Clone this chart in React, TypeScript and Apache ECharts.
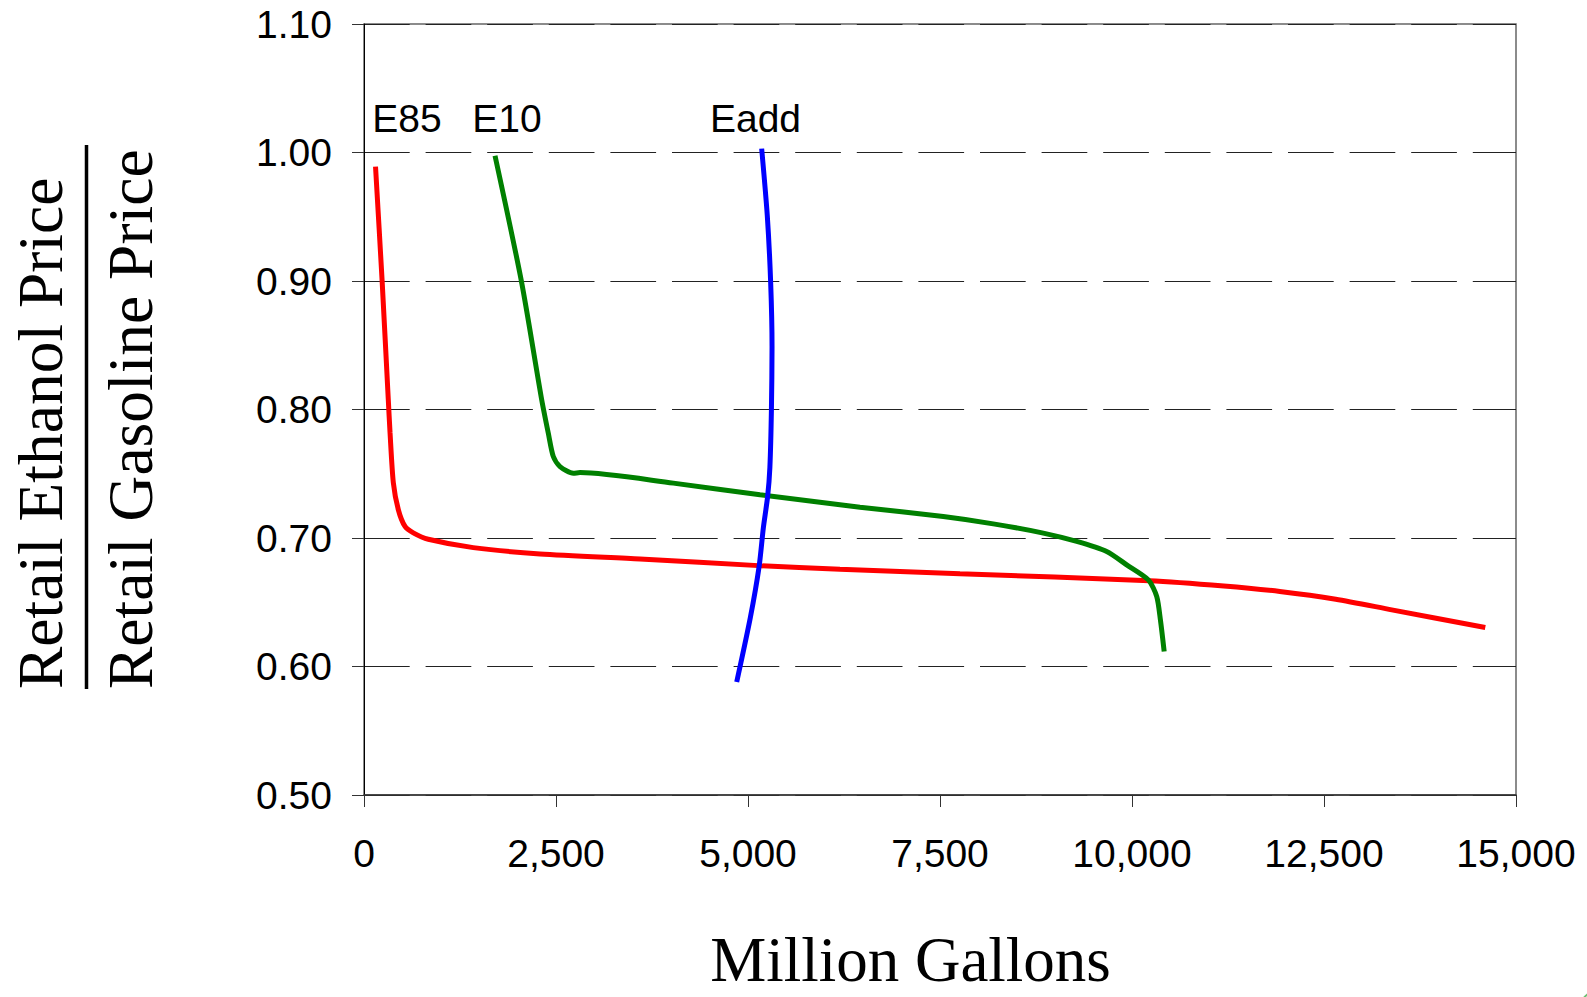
import React, { useEffect, useRef } from "react";
import * as echarts from "echarts";

// Quantity (million gallons) vs. retail ethanol/gasoline price ratio
const e85Curve: [number, number][] = [
  [150, 0.989], [236, 0.9], [316, 0.808], [339, 0.782], [382, 0.743],
  [447, 0.722], [534, 0.709], [642, 0.704], [837, 0.699], [1423, 0.6925],
  [2292, 0.6876], [3594, 0.6837], [5134, 0.6785], [6198, 0.6757],
  [7760, 0.6721], [10225, 0.6668], [11196, 0.6627],
  [11925, 0.6584], [12653, 0.6524], [13382, 0.6441], [14600, 0.6303],
];

const e10Curve: [number, number][] = [
  [1706, 0.9975], [2049, 0.9], [2314, 0.8075], [2400, 0.7815], [2465, 0.7634],
  [2552, 0.7556], [2726, 0.7504], [2813, 0.7509], [4028, 0.7427],
  [5156, 0.7336], [6458, 0.724], [7543, 0.7167], [8194, 0.711],
  [8845, 0.7038], [9280, 0.6973], [9670, 0.6895], [9931, 0.6791],
  [10213, 0.6674], [10322, 0.6545], [10370, 0.6363], [10419, 0.6117],
];

const eaddCurve: [number, number][] = [
  [5178, 1.003], [5251, 0.951], [5295, 0.899], [5313, 0.849], [5305, 0.8],
  [5285, 0.755], [5255, 0.732], [5200, 0.708], [5145, 0.678], [5030, 0.638],
  [4853, 0.588],
];

const seriesNames = ["E85", "E10", "Eadd"];
const seriesColors = ["#ff0000", "#008000", "#0000ff"];

const xMin = 0;
const xMax = 15000;
const xStep = 2500;
const yMin = 0.5;
const yMax = 1.1;
const yStep = 0.1;

const xTitle = "Million Gallons";
const yTitleTop = "Retail Ethanol Price";
const yTitleBottom = "Retail Gasoline Price";

const SANS = "'Liberation Sans', Arial, Helvetica, sans-serif";
const SERIF = "'Liberation Serif', 'Times New Roman', Times, serif";

export default function App() {
  const ref = useRef<HTMLDivElement>(null);

  useEffect(() => {
    if (!ref.current) return;
    const chart = echarts.init(ref.current, undefined, { renderer: "svg" });

    const lineSeries = (name: string, data: [number, number][], color: string) => ({
      name,
      type: "line",
      data,
      symbol: "none",
      smooth: 0.25,
      lineStyle: { color, width: 5 },
      z: 3,
    });

    chart.setOption({
      animation: false,
      backgroundColor: "#ffffff",
      grid: {
        left: 364,
        right: 71,
        top: 24,
        bottom: 202,
        show: true,
        borderColor: "#666",
        borderWidth: 1.5,
        backgroundColor: "transparent",
      },
      xAxis: {
        type: "value",
        min: xMin,
        max: xMax,
        interval: xStep,
        axisLine: { show: true, onZero: false, lineStyle: { color: "#333", width: 1.5 } },
        axisTick: { show: true, length: 12, lineStyle: { color: "#333", width: 1 } },
        axisLabel: {
          margin: 39,
          color: "#000",
          fontFamily: SANS,
          fontSize: 39,
          formatter: (v: number) => v.toLocaleString("en-US"),
        },
        splitLine: { show: false },
      },
      yAxis: {
        type: "value",
        min: yMin,
        max: yMax,
        interval: yStep,
        axisLine: { show: true, onZero: false, lineStyle: { color: "#000", width: 1 } },
        axisTick: { show: true, length: 12, lineStyle: { color: "#333", width: 1 } },
        axisLabel: {
          margin: 32,
          color: "#000",
          fontFamily: SANS,
          fontSize: 39,
          formatter: (v: number) => v.toFixed(2),
        },
        splitLine: {
          show: true,
          lineStyle: { color: "#222", width: 1, type: [45.7, 15.9] },
        },
      },
      series: [
        lineSeries(seriesNames[0], e85Curve, seriesColors[0]),
        lineSeries(seriesNames[1], e10Curve, seriesColors[1]),
        lineSeries(seriesNames[2], eaddCurve, seriesColors[2]),
      ],
      graphic: [
        {
          type: "text",
          x: 407,
          y: 118,
          style: { text: seriesNames[0], fill: "#000", font: `39px ${SANS}`, align: "center", verticalAlign: "middle" },
        },
        {
          type: "text",
          x: 507,
          y: 118,
          style: { text: seriesNames[1], fill: "#000", font: `39px ${SANS}`, align: "center", verticalAlign: "middle" },
        },
        {
          type: "text",
          x: 755.5,
          y: 118,
          style: { text: seriesNames[2], fill: "#000", font: `39px ${SANS}`, align: "center", verticalAlign: "middle" },
        },
        {
          type: "text",
          x: 910.5,
          y: 960,
          style: {
            text: xTitle,
            fill: "#000",
            font: `63px ${SERIF}`,
            align: "center",
            verticalAlign: "middle",
          },
        },
        {
          type: "text",
          x: 40.6,
          y: 689,
          rotation: Math.PI / 2,
          style: { text: yTitleTop, fill: "#000", font: `63.5px ${SERIF}`, align: "left", verticalAlign: "middle" },
        },
        {
          type: "text",
          x: 130.3,
          y: 689,
          rotation: Math.PI / 2,
          style: { text: yTitleBottom, fill: "#000", font: `63.5px ${SERIF}`, align: "left", verticalAlign: "middle" },
        },
        {
          type: "line",
          shape: { x1: 86.5, y1: 145, x2: 86.5, y2: 689 },
          style: { stroke: "#000", lineWidth: 3.5 },
        },
        {
          type: "circle",
          shape: { cx: 1600, cy: 1010, r: 20 },
          style: { fill: "none", stroke: "#4caf50", lineWidth: 2, opacity: 0.8 },
        },
      ],
    });

    return () => chart.dispose();
  }, []);

  return (
    <div
      ref={ref}
      style={{ position: "fixed", left: 0, top: 0, width: 1587, height: 997, background: "#fff" }}
    />
  );
}
